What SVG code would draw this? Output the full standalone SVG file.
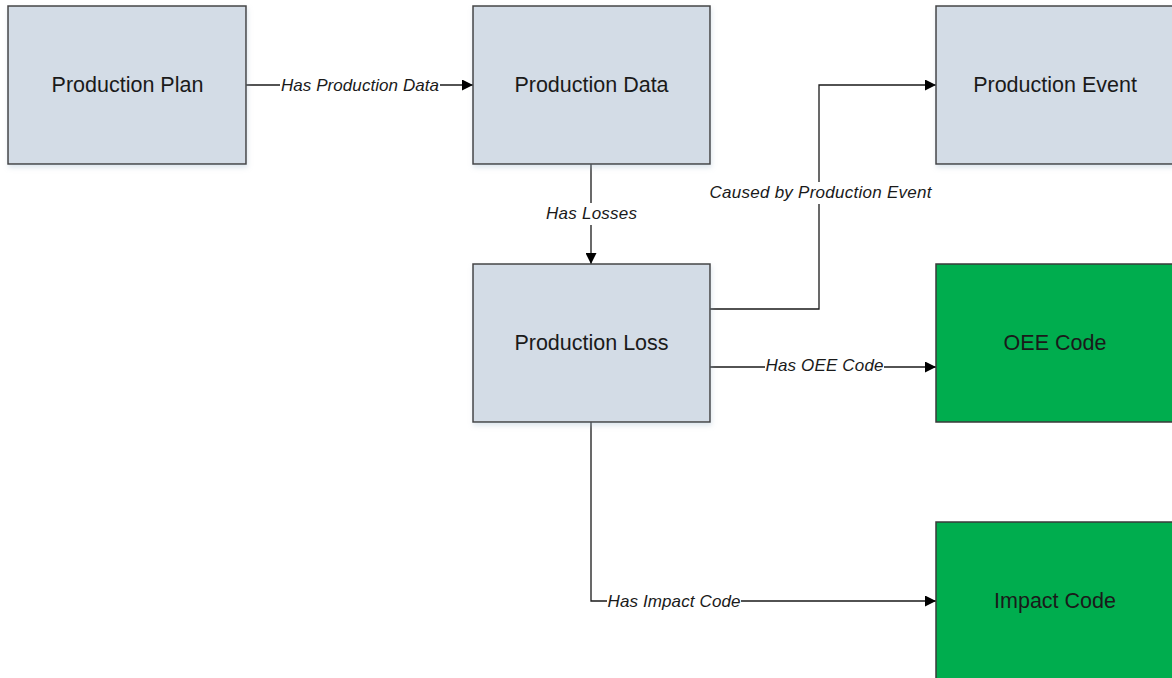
<svg xmlns="http://www.w3.org/2000/svg" width="1172" height="678" viewBox="0 0 1172 678">
<style>
.box{fill:#D3DCE6;stroke:#454545;stroke-width:1.5}
.green{fill:#00AD4E;stroke:#3a3a3a;stroke-width:1.5}
.lbl{font-family:"Liberation Sans",Arial,sans-serif;font-size:21.5px;fill:#1a1a1a;text-anchor:middle}
.edge{fill:none;stroke:#1a1a1a;stroke-width:1.3}
.elbl{font-family:"Liberation Sans",Arial,sans-serif;font-size:17px;font-style:italic;fill:#1a1a1a;text-anchor:middle}
.bg{fill:#ffffff}
</style>
<defs>
<marker id="arr" viewBox="0 0 10 10" refX="10" refY="5" markerWidth="11" markerHeight="11" markerUnits="userSpaceOnUse" orient="auto">
<path d="M0,0 L10,5 L0,10 Z" fill="#000"/>
</marker>
<filter id="sh" x="-10%" y="-10%" width="130%" height="130%">
<feDropShadow dx="1" dy="3" stdDeviation="2.5" flood-color="#9fb6cc" flood-opacity="0.35"/>
</filter>
</defs>
<rect width="1172" height="678" fill="#ffffff"/>
<g id="connectors">
<path class="edge" d="M246,85 H473" marker-end="url(#arr)"/>
<rect class="bg" x="280" y="74" width="160" height="22"/>
<text class="elbl" x="360" y="91" textLength="158">Has Production Data</text>
<path class="edge" d="M591,164 V264" marker-end="url(#arr)"/>
<rect class="bg" x="545" y="203" width="94" height="22"/>
<text class="elbl" x="591.5" y="219" textLength="91">Has Losses</text>
<path class="edge" d="M710,309 H819 V85 H936" marker-end="url(#arr)"/>
<rect class="bg" x="708" y="182" width="226" height="22"/>
<text class="elbl" x="820.5" y="198" textLength="222">Caused by Production Event</text>
<path class="edge" d="M710,367 H936" marker-end="url(#arr)"/>
<rect class="bg" x="765" y="356" width="119" height="22"/>
<text class="elbl" x="824.5" y="371" textLength="118">Has OEE Code</text>
<path class="edge" d="M591,422 V601 H936" marker-end="url(#arr)"/>
<rect class="bg" x="607" y="590" width="134" height="22"/>
<text class="elbl" x="674" y="607" textLength="133">Has Impact Code</text>
</g>
<g id="production-plan">
<rect class="box" x="8" y="6" width="238" height="158" filter="url(#sh)"/>
<text class="lbl" x="127.5" y="92">Production Plan</text>
</g>
<g id="production-data">
<rect class="box" x="473" y="6" width="237" height="158" filter="url(#sh)"/>
<text class="lbl" x="591.5" y="92">Production Data</text>
</g>
<g id="production-event">
<rect class="box" x="936" y="6" width="238" height="158" filter="url(#sh)"/>
<text class="lbl" x="1055" y="92">Production Event</text>
</g>
<g id="production-loss">
<rect class="box" x="473" y="264" width="237" height="158" filter="url(#sh)"/>
<text class="lbl" x="591.5" y="350">Production Loss</text>
</g>
<g id="oee-code">
<rect class="green" x="936" y="264" width="238" height="158"/>
<text class="lbl" x="1055" y="350">OEE Code</text>
</g>
<g id="impact-code">
<rect class="green" x="936" y="522" width="238" height="160"/>
<text class="lbl" x="1055" y="608">Impact Code</text>
</g>
</svg>
